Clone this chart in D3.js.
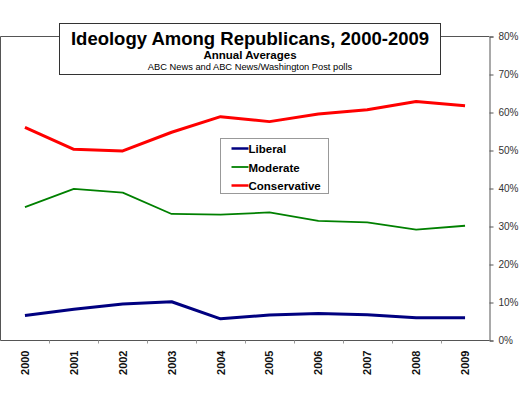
<!DOCTYPE html>
<html>
<head>
<meta charset="UTF-8">
<script src="https://cdnjs.cloudflare.com/ajax/libs/d3/7.8.5/d3.min.js"></script>
<style>
  body { margin: 0; background: #fff; font-family: "Liberation Sans", Arial, sans-serif; }
  svg { display: block; }
</style>
</head>
<body>
<div id="chart"></div>
<script>
const years = ["2000", "2001", "2002", "2003", "2004", "2005", "2006", "2007", "2008", "2009"];
const liberal = [6.6, 8.2, 9.6, 10.2, 5.7, 6.7, 7.1, 6.8, 6.0, 6.0];
const moderate = [35.1, 39.9, 38.9, 33.3, 33.1, 33.7, 31.5, 31.1, 29.2, 30.2];
const conservative = [56.1, 50.3, 49.9, 54.8, 58.9, 57.6, 59.6, 60.7, 62.9, 61.8];
const yTicks = [0, 10, 20, 30, 40, 50, 60, 70, 80];

const series = [
  { name: "Liberal", values: liberal, color: "#000080", width: 3 },
  { name: "Moderate", values: moderate, color: "#008000", width: 1.8 },
  { name: "Conservative", values: conservative, color: "#ff0000", width: 3 }
];

const W = 531, H = 411;
const plotL = 0.5, plotR = 489.5, plotT = 36.5, plotB = 340.5;

const svg = d3.select("#chart").append("svg")
  .attr("width", W).attr("height", H);

const x = d3.scaleBand().domain(years).range([plotL, plotR]);
const y = d3.scaleLinear().domain([0, 80]).range([plotB, plotT]);

// plot frame (left and top)
svg.append("path")
  .attr("d", `M${plotL},${plotB}V${plotT}H${plotR}`)
  .attr("fill", "none").attr("stroke", "#555").attr("stroke-width", 1);

// right axis
const yAxis = svg.append("g")
  .attr("transform", `translate(${plotR},0)`)
  .call(d3.axisRight(y).tickValues(yTicks).tickSize(4).tickPadding(5)
    .tickFormat(d => d + "%"));
yAxis.select(".domain").attr("stroke", "#555");
yAxis.selectAll(".tick line").attr("stroke", "#555");
yAxis.selectAll("text").attr("fill", "#333").style("font-size", "10px")
  .style("font-family", "Liberation Sans, Arial, sans-serif");

// bottom axis: ticks at band boundaries
svg.append("line")
  .attr("x1", plotL).attr("x2", plotR).attr("y1", plotB).attr("y2", plotB)
  .attr("stroke", "#555");
svg.append("g").selectAll("line")
  .data(years.slice(1))
  .join("line")
  .attr("x1", d => Math.round(x(d)) + 0.5).attr("x2", d => Math.round(x(d)) + 0.5)
  .attr("y1", plotB).attr("y2", plotB + 3)
  .attr("stroke", "#999");

svg.append("g").selectAll("text")
  .data(years)
  .join("text")
  .attr("transform", d => `translate(${x(d) + x.bandwidth() / 2 + 4},${plotB + 10}) rotate(-90)`)
  .attr("text-anchor", "end")
  .style("font-size", "11px").style("font-weight", "bold")
  .attr("fill", "#111")
  .text(d => d);

// lines
const line = d3.line()
  .x((d, i) => x(years[i]) + x.bandwidth() / 2)
  .y(d => y(d));

svg.append("g").selectAll("path")
  .data(series)
  .join("path")
  .attr("d", d => line(d.values))
  .attr("fill", "none")
  .attr("stroke", d => d.color)
  .attr("stroke-width", d => d.width)
  .attr("stroke-linejoin", "round");

// title box
svg.append("rect")
  .attr("x", 59.5).attr("y", 23.5).attr("width", 381).attr("height", 51)
  .attr("fill", "#fff").attr("stroke", "#333");
svg.append("text").attr("x", 250).attr("y", 45).attr("text-anchor", "middle")
  .style("font-size", "18.5px").style("font-weight", "bold").attr("fill", "#000")
  .text("Ideology Among Republicans, 2000-2009");
svg.append("text").attr("x", 250).attr("y", 58.5).attr("text-anchor", "middle")
  .style("font-size", "11.5px").style("font-weight", "bold").attr("fill", "#000")
  .text("Annual Averages");
svg.append("text").attr("x", 250).attr("y", 70).attr("text-anchor", "middle")
  .style("font-size", "9.3px").attr("fill", "#000")
  .text("ABC News and ABC News/Washington Post polls");

// legend
const lg = svg.append("g").attr("transform", "translate(220.5,138.5)");
lg.append("rect").attr("width", 108).attr("height", 55)
  .attr("fill", "#fff").attr("stroke", "#999");
const item = lg.selectAll("g.item").data(series).join("g")
  .attr("class", "item")
  .attr("transform", (d, i) => `translate(0,${10 + i * 18.5})`);
item.append("line").attr("x1", 11).attr("x2", 28).attr("y1", 0).attr("y2", 0)
  .attr("stroke", d => d.color).attr("stroke-width", d => d.width === 3 ? 2.5 : 1.8);
item.append("text").attr("x", 28).attr("y", 4.5)
  .style("font-size", "11.5px").style("font-weight", "bold").attr("fill", "#000")
  .text(d => d.name);
</script>
</body>
</html>
